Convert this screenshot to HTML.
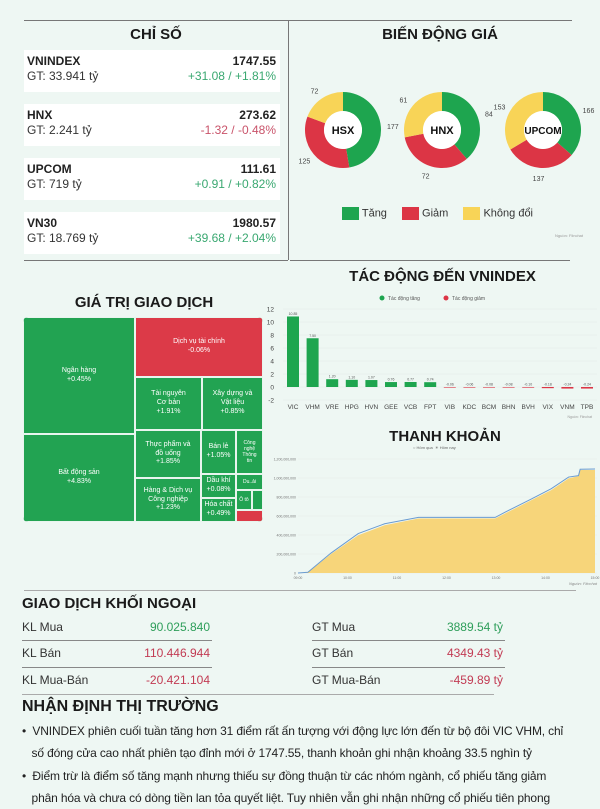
<!DOCTYPE html>
<html><head><meta charset="utf-8">
<style>
*{margin:0;padding:0;box-sizing:border-box}
body{width:600px;height:800px;overflow:hidden;background:#eef7f3;font-family:"Liberation Sans",sans-serif;color:#222;position:relative}
.abs{position:absolute}
.title{font-weight:bold;font-size:15px;color:#1a1a1a;text-align:center}
.card{position:absolute;left:24px;width:256px;height:42px;background:#fff}
.card .n{position:absolute;left:3px;top:4px;font-weight:bold;font-size:12px}
.card .g{position:absolute;left:3px;top:19px;font-size:12px;color:#333}
.card .v{position:absolute;right:4px;top:4px;font-weight:bold;font-size:12px}
.card .c{position:absolute;right:4px;top:19px;font-size:12px}
.up{color:#3aa871}.dn{color:#c9536a}
.tm{position:absolute;background:#22a352;border:1px solid #e8f5ee;color:#fff;font-size:7px;text-align:center;display:flex;align-items:center;justify-content:center;line-height:1.25}
.row{position:absolute;font-size:12px;color:#333}
.rv{position:absolute;font-size:12px;text-align:right}
.hl{position:absolute;height:1px;background:#888}
.note{position:absolute;left:22px;width:575px;font-size:12px;letter-spacing:-0.15px;line-height:22px;color:#222;white-space:nowrap}
</style></head><body>
<div class="hl" style="left:24px;top:20px;width:548px;background:#777"></div>
<div class="abs" style="left:288px;top:20px;width:1px;height:240px;background:#777"></div>
<div class="hl" style="left:24px;top:260px;width:264px;background:#777"></div>
<div class="hl" style="left:290px;top:260px;width:280px;background:#777"></div>

<div class="abs title" style="left:24px;top:26px;width:264px">CHỈ SỐ</div>
<div class="card" style="top:50px"><span class="n">VNINDEX</span><span class="g">GT: 33.941 tỷ</span><span class="v">1747.55</span><span class="c up">+31.08 / +1.81%</span></div>
<div class="card" style="top:104px"><span class="n">HNX</span><span class="g">GT: 2.241 tỷ</span><span class="v">273.62</span><span class="c dn">-1.32 / -0.48%</span></div>
<div class="card" style="top:158px"><span class="n">UPCOM</span><span class="g">GT: 719 tỷ</span><span class="v">111.61</span><span class="c up">+0.91 / +0.82%</span></div>
<div class="card" style="top:212px"><span class="n">VN30</span><span class="g">GT: 18.769 tỷ</span><span class="v">1980.57</span><span class="c up">+39.68 / +2.04%</span></div>

<div class="abs title" style="left:290px;top:26px;width:300px">BIẾN ĐỘNG GIÁ</div>
<svg class="abs" style="left:0;top:0" width="600" height="260" id="donuts"></svg>
<div class="abs" style="left:342px;top:207px;font-size:11px;color:#333;white-space:nowrap">
<span style="display:inline-block;width:17px;height:13px;background:#1ea54f;vertical-align:middle"></span> Tăng
<span style="display:inline-block;width:17px;height:13px;background:#dc3545;vertical-align:middle;margin-left:12px"></span> Giảm
<span style="display:inline-block;width:17px;height:13px;background:#f8d457;vertical-align:middle;margin-left:12px"></span> Không đổi</div>
<div class="abs" style="left:555px;top:233px;font-size:4px;color:#999">Nguồn: Fiinchat</div>

<div class="abs title" style="left:24px;top:294px;width:240px">GIÁ TRỊ GIAO DỊCH</div>
<div class="abs" style="left:23px;top:317px;width:240px;height:205px;border-radius:5px;overflow:hidden;background:#22a352">
<div class="tm" style="left:0;top:0;width:112px;height:117px">Ngân hàng<br>+0.45%</div>
<div class="tm" style="left:0;top:117px;width:112px;height:88px">Bất động sản<br>+4.83%</div>
<div class="tm" style="left:112px;top:0;width:128px;height:60px;background:#dc3a48">Dịch vụ tài chính<br>-0.06%</div>
<div class="tm" style="left:112px;top:60px;width:67px;height:53px">Tài nguyên<br>Cơ bản<br>+1.91%</div>
<div class="tm" style="left:179px;top:60px;width:61px;height:53px">Xây dựng và<br>Vật liệu<br>+0.85%</div>
<div class="tm" style="left:112px;top:113px;width:66px;height:48px">Thực phẩm và<br>đồ uống<br>+1.85%</div>
<div class="tm" style="left:112px;top:161px;width:66px;height:44px">Hàng &amp; Dịch vụ<br>Công nghiệp<br>+1.23%</div>
<div class="tm" style="left:178px;top:113px;width:35px;height:44px">Bán lẻ<br>+1.05%</div>
<div class="tm" style="left:213px;top:113px;width:27px;height:44px;font-size:5px">Công<br>nghệ<br>Thông<br>tin</div>
<div class="tm" style="left:178px;top:157px;width:35px;height:24px">Dầu khí<br>+0.08%</div>
<div class="tm" style="left:178px;top:181px;width:35px;height:24px">Hóa chất<br>+0.49%</div>
<div class="tm" style="left:213px;top:157px;width:27px;height:16px;font-size:5px">Du..ải</div>
<div class="tm" style="left:213px;top:173px;width:16px;height:20px;font-size:5px">Ô tô</div>
<div class="tm" style="left:229px;top:173px;width:11px;height:20px;font-size:5px"></div>
<div class="tm" style="left:213px;top:193px;width:27px;height:12px;background:#dc3a48"></div>
</div>

<div class="abs title" style="left:290px;top:268px;width:305px">TÁC ĐỘNG ĐẾN VNINDEX</div>
<svg class="abs" style="left:265px;top:290px" width="335" height="130" id="impact"></svg>

<div class="abs title" style="left:290px;top:428px;width:310px">THANH KHOẢN</div>
<svg class="abs" style="left:265px;top:444px" width="335" height="146" id="liq"></svg>

<div class="hl" style="left:24px;top:590px;width:552px;background:#aaa"></div>
<div class="abs" style="left:22px;top:595px;font-size:15px;font-weight:bold;color:#1a1a1a">GIAO DỊCH KHỐI NGOẠI</div>
<div class="row" style="left:22px;top:620px">KL Mua</div>
<div class="rv up" style="left:110px;width:100px;top:620px;color:#2e9e5a">90.025.840</div>
<div class="hl" style="left:22px;top:640px;width:190px"></div>
<div class="row" style="left:22px;top:646px">KL Bán</div>
<div class="rv" style="left:110px;width:100px;top:646px;color:#c23b53">110.446.944</div>
<div class="hl" style="left:22px;top:667px;width:190px"></div>
<div class="row" style="left:22px;top:673px">KL Mua-Bán</div>
<div class="rv" style="left:110px;width:100px;top:673px;color:#c23b53">-20.421.104</div>
<div class="row" style="left:312px;top:620px">GT Mua</div>
<div class="rv" style="left:400px;width:103px;top:620px;color:#2e9e5a">3889.54 tỷ</div>
<div class="hl" style="left:312px;top:640px;width:193px"></div>
<div class="row" style="left:312px;top:646px">GT Bán</div>
<div class="rv" style="left:400px;width:103px;top:646px;color:#c23b53">4349.43 tỷ</div>
<div class="hl" style="left:312px;top:667px;width:193px"></div>
<div class="row" style="left:312px;top:673px">GT Mua-Bán</div>
<div class="rv" style="left:400px;width:103px;top:673px;color:#c23b53">-459.89 tỷ</div>
<div class="hl" style="left:22px;top:694px;width:472px;background:#aaa"></div>

<div class="abs" style="left:22px;top:698px;font-size:16px;font-weight:bold;color:#1a1a1a">NHẬN ĐỊNH THỊ TRƯỜNG</div>
<div class="note" style="top:720px">• &nbsp;VNINDEX phiên cuối tuần tăng hơn 31 điểm rất ấn tượng với động lực lớn đến từ bộ đôi VIC VHM, chỉ<br>&nbsp;&nbsp;&nbsp;số đóng cửa cao nhất phiên tạo đỉnh mới ở 1747.55, thanh khoản ghi nhận khoảng 33.5 nghìn tỷ</div>
<div class="note" style="top:765px">• &nbsp;Điểm trừ là điểm số tăng mạnh nhưng thiếu sự đồng thuận từ các nhóm ngành, cổ phiếu tăng giảm<br>&nbsp;&nbsp;&nbsp;phân hóa và chưa có dòng tiền lan tỏa quyết liệt. Tuy nhiên vẫn ghi nhận những cổ phiếu tiên phong</div>

<script>
const NS='http://www.w3.org/2000/svg';
function mk(p,t,a,txt){const e=document.createElementNS(NS,t);for(const k in a)e.setAttribute(k,a[k]);if(txt!==undefined)e.textContent=txt;p.appendChild(e);return e;}

// ---- Donuts ----
const exchanges=['HSX','HNX','UPCOM'];
const upCounts=[177,84,166];
const downCounts=[125,72,137];
const flatCounts=[72,61,153];
const donutColors=['#1ea54f','#dc3545','#f8d457'];
const dsv=document.getElementById('donuts');
const centers=[[343,130],[442,130],[543,130]];
exchanges.forEach((ex,i)=>{
  const vals=[upCounts[i],downCounts[i],flatCounts[i]];
  const tot=vals.reduce((a,b)=>a+b,0);
  const [cx,cy]=centers[i],R=38,r=19;
  let a0=-Math.PI/2;
  vals.forEach((v,j)=>{
    const a1=a0+v/tot*2*Math.PI,lg=(a1-a0)>Math.PI?1:0;
    const p=`M${cx+R*Math.cos(a0)},${cy+R*Math.sin(a0)}A${R},${R} 0 ${lg} 1 ${cx+R*Math.cos(a1)},${cy+R*Math.sin(a1)}L${cx+r*Math.cos(a1)},${cy+r*Math.sin(a1)}A${r},${r} 0 ${lg} 0 ${cx+r*Math.cos(a0)},${cy+r*Math.sin(a0)}Z`;
    const s=mk(dsv,'path',{d:p,fill:donutColors[j]});
    
    
    const am=(a0+a1)/2,lx=cx+(R+12)*Math.cos(am),ly=cy+(R+10)*Math.sin(am)+3;
    const t=mk(dsv,'text',{x:lx,y:ly,'font-size':7,'text-anchor':'middle',fill:'#444'},v);
    
    
    a0=a1;
  });
  mk(dsv,'circle',{cx:cx,cy:cy,r:r,fill:'#fff'});
  const t=mk(dsv,'text',{x:cx,y:cy+4,'font-size':ex.length>3?10:11,'font-weight':'bold','text-anchor':'middle',fill:'#111'},ex);
  
  
});

// ---- Impact bar chart ----
const impactTickers=['VIC','VHM','VRE','HPG','HVN','GEE','VCB','FPT','VIB','KDC','BCM','BHN','BVH','VIX','VNM','TPB'];
const impactValues=[10.85,7.5,1.2,1.1,1.07,0.76,0.77,0.74,-0.06,-0.06,-0.08,-0.08,-0.1,-0.18,-0.24,-0.24];
const impactTicks=[12,10,8,6,4,2,0,-2];
const isv=document.getElementById('impact');
const iy=v=>97-v*6.5, ix=i=>28+i*19.6;
mk(isv,'circle',{cx:117,cy:8,r:2.5,fill:'#1ea54f'});mk(isv,'text',{x:123,y:10,'font-size':5,fill:'#555'},'Tác động tăng');
mk(isv,'circle',{cx:181,cy:8,r:2.5,fill:'#dc3545'});mk(isv,'text',{x:187,y:10,'font-size':5,fill:'#555'},'Tác động giảm');
impactTicks.forEach(t=>{
  mk(isv,'line',{x1:18,x2:332,y1:iy(t),y2:iy(t),stroke:'#e2e8e5','stroke-width':0.5});
  const e=mk(isv,'text',{x:9,y:iy(t)+2.5,'font-size':6.5,'text-anchor':'end',fill:'#444'},t);
  
  
});
impactTickers.forEach((tk,i)=>{
  const v=impactValues[i],y0=iy(0),y1=iy(v);
  const b=mk(isv,'rect',{x:ix(i)-6,y:Math.min(y0,y1),width:12,height:Math.max(0.6,Math.abs(y1-y0)),fill:v>=0?'#1ea54f':'#dc3545'});
  
  
  const vl=mk(isv,'text',{x:ix(i),y:(v>=0?y1-1.5:y0-1.5),'font-size':3.5,'text-anchor':'middle',fill:'#555'},v.toFixed(2));
  
  
  const l=mk(isv,'text',{x:ix(i),y:119,'font-size':6.5,'text-anchor':'middle',fill:'#444'},tk);
  
  
});
mk(isv,'text',{x:327,y:128,'font-size':3.5,'text-anchor':'end',fill:'#999'},'Nguồn: Fiinchat');

// ---- Liquidity chart ----
const todayMinutes=[0,12,40,73,105,146,239,251,283,307,328,340,342,360];
const todayVolume=[0,5,200,398,503,574,574,626,767,873,996,1020,1084,1084];
const prevMinutes=[0,12,40,73,105,146,239,251,283,307,328,340,342,360];
const prevVolume=[0,8,210,415,518,585,585,640,780,888,1010,1025,1092,1095];
const liqTicks=[0,200,400,600,800,1000,1200];
const timeLabels=['09:00','10:00','11:00','12:00','13:00','14:00','15:00'];
const lsv=document.getElementById('liq');
const lx=m=>33+m*(297/360), ly=v=>129-v*(114/1200);
mk(lsv,'text',{x:148,y:5,'font-size':4,fill:'#666'},'○ Hôm qua');
mk(lsv,'text',{x:170,y:5,'font-size':4,fill:'#666'},'☀ Hôm nay');
liqTicks.forEach(t=>{
  mk(lsv,'line',{x1:33,x2:332,y1:ly(t),y2:ly(t),stroke:'#e4ebe7','stroke-width':0.5});
  const e=mk(lsv,'text',{x:31,y:ly(t)+1.5,'font-size':3.5,'text-anchor':'end',fill:'#777'},t===0?'0':(t*1e6).toLocaleString('en-US'));
  
  
});
timeLabels.forEach((t,i)=>{
  const e=mk(lsv,'text',{x:lx(i*60),y:135,'font-size':3.5,'text-anchor':'middle',fill:'#777'},t);
  
  
});
let d='M'+lx(todayMinutes[0])+','+ly(0);
todayMinutes.forEach((m,i)=>d+='L'+lx(m)+','+ly(todayVolume[i]));
d+='L'+lx(todayMinutes[todayMinutes.length-1])+','+ly(0)+'Z';
const area=mk(lsv,'path',{d:d,fill:'#f7d57a'});


let d2='';
prevMinutes.forEach((m,i)=>d2+=(i?'L':'M')+lx(m)+','+ly(prevVolume[i]));
const line=mk(lsv,'path',{d:d2,fill:'none',stroke:'#6a9bd0','stroke-width':1});


mk(lsv,'text',{x:332,y:141,'font-size':4,'text-anchor':'end',fill:'#888','font-style':'italic'},'Nguồn: Fiinchat');
</script>
</body></html>
